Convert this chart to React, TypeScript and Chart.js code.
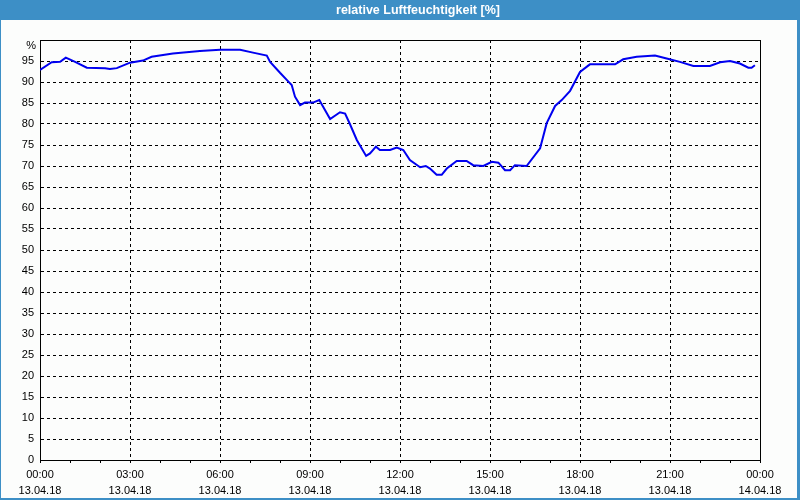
import React, { useEffect, useRef } from "react";
import { Chart, registerables } from "chart.js";

Chart.register(...registerables);

const TITLE = "relative Luftfeuchtigkeit [%]";
const hours = [
  0, 0.39, 0.67, 0.86, 1.17, 1.56, 2.17, 2.33, 2.56, 3.0, 3.43, 3.72, 4.43, 5.33, 6.0, 6.67, 7.1, 7.56, 7.67, 8.0,
  8.28, 8.39, 8.5, 8.67, 8.83, 9.1, 9.31, 9.67, 10.0, 10.17, 10.33, 10.56, 10.87, 11.0, 11.2, 11.33, 11.67, 11.89,
  12.11, 12.33, 12.67, 12.86, 13.0, 13.22, 13.39, 13.56, 13.89, 14.22, 14.44, 14.78, 15.06, 15.28, 15.5, 15.67,
  15.83, 16.22, 16.67, 16.89, 17.17, 17.39, 17.67, 18.0, 18.33, 19.17, 19.44, 19.89, 20.5, 20.89, 21.33, 21.78,
  22.33, 22.67, 23.0, 23.33, 23.61, 23.72, 23.83,
];
const humidity = [
  92.9, 94.7, 94.8, 95.8, 94.8, 93.4, 93.3, 93.1, 93.3, 94.6, 95.1, 96.0, 96.8, 97.4, 97.7, 97.7, 97.0, 96.3, 94.8, 92.2,
  90.1, 89.3, 86.5, 84.5, 85.1, 85.1, 85.7, 81.2, 82.8, 82.5, 80.0, 76.2, 72.4, 73.0, 74.6, 73.8, 73.8, 74.4,
  73.8, 71.4, 69.7, 70.0, 69.4, 67.9, 67.9, 69.4, 71.2, 71.2, 70.2, 70.0, 71.0, 70.8, 69.0, 69.0,
  70.2, 70.0, 74.2, 80.2, 84.3, 85.7, 87.9, 92.4, 94.2, 94.2, 95.4, 96.0, 96.3, 95.6, 94.8, 93.8,
  93.8, 94.7, 95.0, 94.4, 93.4, 93.4, 94.0,
];
const timeLabels = ["00:00", "03:00", "06:00", "09:00", "12:00", "15:00", "18:00", "21:00", "00:00"];
const dateLabels = ["13.04.18", "13.04.18", "13.04.18", "13.04.18", "13.04.18", "13.04.18", "13.04.18", "13.04.18", "14.04.18"];
const yUnitLabel = "%";

const FONT = "'Liberation Sans', Arial, sans-serif";

const frame = {
  id: "frame",
  beforeDatasetsDraw(chart: any) {
    const { ctx, chartArea } = chart;
    ctx.save();
    ctx.strokeStyle = "#000";
    ctx.lineWidth = 1;
    ctx.setLineDash([]);
    ctx.strokeRect(
      Math.round(chartArea.left) + 0.5,
      Math.round(chartArea.top) + 0.5,
      Math.round(chartArea.right - chartArea.left),
      Math.round(chartArea.bottom - chartArea.top)
    );
    // unit label just below the top of the value axis
    ctx.fillStyle = "#000";
    ctx.font = `11px ${FONT}`;
    ctx.textAlign = "right";
    ctx.textBaseline = "middle";
    ctx.fillText(yUnitLabel, chartArea.left - 4, chartArea.top + 6);
    ctx.restore();
  },
};

export default function App() {
  const ref = useRef<HTMLCanvasElement>(null);
  useEffect(() => {
    if (!ref.current) return;
    const chart = new Chart(ref.current, {
      type: "line",
      data: {
        datasets: [
          {
            label: TITLE,
            data: hours.map((h, i) => ({ x: h, y: humidity[i] })),
            borderColor: "#0000f0",
            borderWidth: 2,
            pointRadius: 0,
            tension: 0,
            fill: false,
          },
        ],
      },
      options: {
        animation: false,
        responsive: false,
        events: [],
        layout: { padding: { top: 40, right: 40, left: 0, bottom: 0 } },
        plugins: { legend: { display: false }, tooltip: { enabled: false }, title: { display: false } },
        scales: {
          x: {
            type: "linear",
            min: 0,
            max: 24,
            afterFit: (s: any) => {
              s.height = 40;
            },
            afterBuildTicks: (s: any) => {
              const t = [];
              for (let h = 0; h <= 24; h++) t.push({ value: h });
              s.ticks = t;
            },
            ticks: {
              autoSkip: false,
              maxRotation: 0,
              padding: 4,
              color: "#000",
              font: { family: FONT, size: 11, lineHeight: 16 / 11 },
              callback: (v: any) => {
                const n = Number(v);
                if (n % 3 !== 0) return "";
                const i = n / 3;
                return [timeLabels[i], dateLabels[i]];
              },
            },
            grid: {
              drawTicks: true,
              tickLength: 3,
              tickColor: "#000",
              tickBorderDash: [],
              color: (c: any) => {
                const v = c.tick ? c.tick.value : 0;
                return v % 3 === 0 && v > 0 && v < 24 ? "#000" : "rgba(0,0,0,0)";
              },
              lineWidth: 1,
            },
            border: { display: true, color: "#000", width: 1, dash: [3, 3] },
          },
          y: {
            type: "linear",
            min: 0,
            max: 100,
            afterFit: (s: any) => {
              s.width = 40;
            },
            ticks: {
              stepSize: 5,
              padding: 6,
              color: "#000",
              font: { family: FONT, size: 11 },
              callback: (v: any) => (Number(v) === 100 ? "" : String(v)),
            },
            grid: {
              drawTicks: false,
              color: (c: any) => {
                const v = c.tick ? c.tick.value : 0;
                return v > 0 && v < 100 ? "#000" : "rgba(0,0,0,0)";
              },
              lineWidth: 1,
            },
            border: { display: true, color: "#000", width: 1, dash: [3, 3] },
          },
        },
      },
      plugins: [frame],
    } as any);
    return () => chart.destroy();
  }, []);

  return (
    <div
      style={{
        position: "fixed",
        left: 0,
        top: 0,
        width: 800,
        height: 500,
        background: "#3d8fc6",
        overflow: "hidden",
      }}
    >
      <div
        style={{
          position: "absolute",
          left: 1,
          top: 20,
          width: 796,
          height: 478,
          background: "#fcfdfc",
        }}
      />
      <canvas ref={ref} width={800} height={500} style={{ position: "absolute", left: 0, top: 0, width: 800, height: 500 }} />
      <div
        style={{
          position: "absolute",
          left: 0,
          top: 0,
          width: 800,
          height: 20,
          boxSizing: "border-box",
          paddingLeft: 36,
          textAlign: "center",
          lineHeight: "20px",
          color: "#ffffff",
          fontFamily: FONT,
          fontWeight: "bold",
          fontSize: 12.5,
        }}
      >
        {TITLE}
      </div>
    </div>
  );
}
